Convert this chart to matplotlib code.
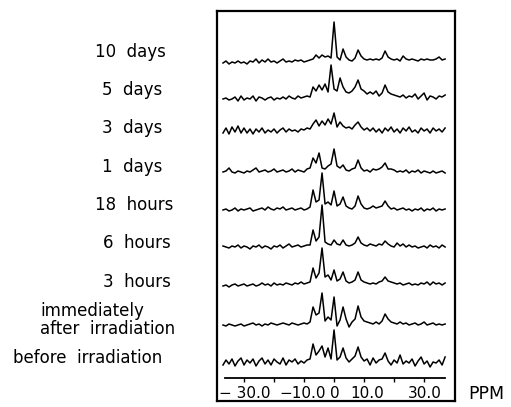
import numpy as np
import matplotlib.pyplot as plt

# chemical shift grid (PPM), one point per ppm
ppm = np.arange(-37, 38)

# spectra, heights (px above each trace's baseline)
day10 = [-3, -1, -4, -2, -3, -1, -3, -2, -4, -1,
         -2, 1, -3, 0, -2, 1, -2, -1, -3, -1,
         1, -2, -1, -2, 0, -1, 0, -2, -1, 0,
         1, 5, 2, 5, 3, 4, 2, 38, 3, 0,
         11, 3, 0, -1, 2, 10, 4, 1, 0, 1,
         0, 1, 0, 2, 9, 3, 1, 0, 1, -1,
         4, 1, 0, 1, 0, -1, 1, 0, 1, 0,
         0, 1, 3, 0, 1]
day5 = [-2, -1, -3, -2, 0, -4, 1, -3, -1, -2,
        1, -4, 0, -1, -3, -1, 0, -3, -1, -2,
        0, -2, 1, -1, -2, 1, -1, 0, 1, 0,
        10, 6, 12, 7, 13, 5, 32, 8, 6, 19,
        10, 5, 4, 6, 10, 17, 8, 6, 3, 5,
        3, 6, 1, 4, 12, 5, 3, 2, 1, 0,
        2, -1, 1, 0, 3, -2, 1, 4, -3, 1,
        0, -2, 1, 0, 2]
day3 = [-3, 2, -4, 3, -2, 4, -3, 2, -3, 1,
        -4, 1, -2, 2, -3, 0, -2, 1, -3, 0,
        2, -2, 1, -1, 0, -2, 1, 0, 2, 1,
        6, 10, 4, 9, 5, 11, 6, 17, 3, 8,
        4, 2, 3, 1, 5, 8, 3, 0, 2, -1,
        2, -2, 1, -3, 2, -1, 3, -2, 1, -3,
        2, -1, 3, -2, 0, -3, 2, -1, 1, -3,
        2, -1, 1, -2, 2]
day1 = [0, 1, 4, 0, -1, 1, 0, -1, 1, 0,
        2, 4, 0, 1, 2, 0, 1, 3, 0, 1,
        2, 0, 1, 3, 0, 2, 1, 0, 3, 4,
        14, 9, 19, 4, 3, 6, 8, 23, 6, 4,
        7, 2, 1, 3, 4, 12, 4, 1, 2, 0,
        3, 2, 3, 5, 9, 3, 3, 2, 0, 1,
        0, 2, -1, 1, 0, 2, -1, 1, 0, -1,
        1, -1, 0, 1, -1]
hour18 = [0, 1, -1, 0, 2, -1, 1, 0, 1, 2,
          -1, 0, 1, 2, 0, 3, 1, 0, 2, 1,
          3, 0, 1, 2, 0, 1, 2, 0, 1, 3,
          20, 8, 10, 37, 6, 8, 5, 19, 4, 6,
          13, 4, 2, 1, 4, 14, 6, 2, 1, 2,
          4, 2, 3, 4, 9, 4, 1, 2, 0, 1,
          2, 0, 1, -1, 1, 0, 2, -1, 1, 0,
          2, -1, 1, 0, 1]
hour6 = [1, 0, -1, 1, 0, 2, -1, 1, 0, -2,
         1, 0, 2, -1, 1, 0, -2, 1, 0, 2,
         -1, 1, 3, 0, 1, 2, 0, 1, 2, 2,
         17, 6, 10, 42, 5, 3, 2, 7, 3, 2,
         7, 2, 1, 2, 4, 10, 4, 2, 1, 3,
         2, 1, 3, 2, 6, 3, 1, 0, 4, 1,
         3, 0, 2, 0, 1, -1, 0, 1, -1, 2,
         0, 1, -1, 2, 0]
hour3 = [-1, 0, -2, 0, 1, -1, 0, 1, -1, 0,
         1, -1, 0, 2, 0, 1, -1, 2, 0, 1,
         0, 2, 1, 0, 2, 1, 3, 1, 2, 3,
         17, 7, 12, 37, 8, 10, 5, 15, 4, 6,
         13, 4, 2, 3, 5, 13, 5, 3, 2, 1,
         2, 1, 3, 4, 8, 4, 3, 2, 1, 2,
         0, 1, 2, 0, 1, 0, 2, 1, 3, 0,
         3, 1, 2, 0, 2]
immediately = [0, -1, 1, 0, -1, 0, 1, -1, 0, 1,
               2, 0, 1, -1, 1, 0, 2, 1, 0, 1,
               2, 1, 0, 2, 1, 0, 1, 2, 1, 3,
               18, 10, 12, 32, 4, 8, 5, 28, -1, 5,
               18, 6, -2, 3, 6, 19, 8, 4, 3, 2,
               1, 3, 1, 4, 11, 6, 3, 2, 1, 3,
               1, 2, 0, 1, 2, 0, 1, 3, 0, 1,
               2, 0, 1, 0, 1]
before = [-2, 3, -1, 4, -3, 2, 5, -2, 3, 0,
          4, -3, 2, 5, -1, 3, -2, 4, 1, -1,
          5, -2, 3, 1, 4, -1, 2, 0, 3, 4,
          19, 8, 12, 17, 6, 15, 4, 33, 3, 6,
          15, 5, 1, 4, 7, 16, 6, 2, 4, -2,
          5, 0, 3, 4, 10, 2, -2, 3, 0, 8,
          -1, 2, 0, 4, -3, 2, 6, -1, 2, -4,
          1, 0, 3, -2, 6]

spectra = [day10, day5, day3, day1, hour18, hour6, hour3, immediately, before]
labels = ["10  days", "5  days", "3  days", "1  days", "18  hours",
          "6  hours", "3  hours", "immediately\nafter  irradiation",
          "before  irradiation"]

ticks = [-30, -20, -10, 0, 10, 20, 30]
tick_labels = {-30: "\u2212 30.0", -10: "\u221210.0", 0: "0", 10: "10.0", 30: "30.0"}

W, H = 511, 407
fig = plt.figure(figsize=(W / 100, H / 100), dpi=100)
ax = fig.add_axes([217 / W, 1 - 401 / H, 238 / W, 390 / H])
ax.set_xlim(-39, 40.3)
ax.set_ylim(0, 390)

# baseline of each trace (px from bottom of the frame)
baselines = [341, 304, 271, 229, 191, 154, 116, 76, 38]
for base, ys in zip(baselines, spectra):
    ax.plot(ppm, np.array(ys) + base, color='k', lw=1.1)

# ppm scale drawn inside the frame
axis_y = 23
ax.plot([-36.3, 37], [axis_y, axis_y], color='k', lw=1.3)
ax.vlines(ticks, axis_y - 4, axis_y, color='k', lw=1.0)
label_shift = {-30: 0.3, -10: -0.5, 0: 0.4, 10: 0.9, 30: 0.3}
for t, s in tick_labels.items():
    ax.text(t + label_shift[t], 8, s, ha='center', va='center', fontsize=11,
            family=['Liberation Sans Narrow', 'DejaVu Sans'])

ax.set_xticks([])
ax.set_yticks([])
for sp in ax.spines.values():
    sp.set_linewidth(1.6)

# row labels on the left
label_pos = [(95, 52), (102, 90), (102, 128), (102, 167), (95, 205),
             (103, 243), (103, 282), (40, 320), (13, 358)]
for (px, py), s in zip(label_pos, labels):
    fig.text(px / W, 1 - py / H, s, ha='left', va='center', fontsize=12,
             linespacing=0.95)

fig.text(468 / W, 1 - 394 / H, "PPM", ha='left', va='center', fontsize=12.5)

fig.savefig("out.png", dpi=100)
